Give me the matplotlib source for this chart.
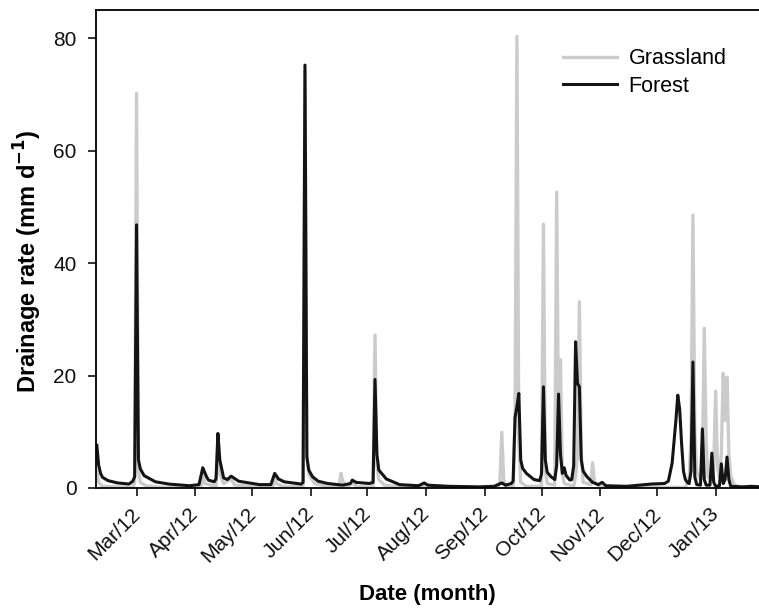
import pandas as pd
import matplotlib
matplotlib.use('Agg')
import matplotlib.pyplot as plt
import matplotlib.dates as mdates
import matplotlib.transforms as mtransforms

plt.rcParams['font.family'] = ['Liberation Sans', 'DejaVu Sans']

# Drenaje diario (mm/d)
forest_dates = [
    "2012-02-09", "2012-02-10", "2012-02-11", "2012-02-12", "2012-02-15", "2012-02-20",
    "2012-02-26", "2012-02-28", "2012-02-29", "2012-03-01", "2012-03-02", "2012-03-03",
    "2012-03-05", "2012-03-11", "2012-03-18", "2012-03-29", "2012-04-03", "2012-04-05",
    "2012-04-07", "2012-04-08", "2012-04-11", "2012-04-12", "2012-04-13", "2012-04-14",
    "2012-04-16", "2012-04-18", "2012-04-20", "2012-04-24", "2012-05-05", "2012-05-11",
    "2012-05-13", "2012-05-15", "2012-05-18", "2012-05-27", "2012-05-28", "2012-05-29",
    "2012-05-30", "2012-05-31", "2012-06-02", "2012-06-05", "2012-06-10", "2012-06-18",
    "2012-06-22", "2012-06-23", "2012-06-25", "2012-07-02", "2012-07-04", "2012-07-05",
    "2012-07-06", "2012-07-07", "2012-07-11", "2012-07-18", "2012-07-28", "2012-07-31",
    "2012-08-02", "2012-08-13", "2012-08-29", "2012-09-06", "2012-09-10", "2012-09-12",
    "2012-09-15", "2012-09-16", "2012-09-17", "2012-09-18", "2012-09-19", "2012-09-20",
    "2012-09-21", "2012-09-23", "2012-09-27", "2012-09-30", "2012-10-01", "2012-10-02",
    "2012-10-03", "2012-10-04", "2012-10-06", "2012-10-08", "2012-10-09", "2012-10-10",
    "2012-10-11", "2012-10-12", "2012-10-13", "2012-10-14", "2012-10-16", "2012-10-17",
    "2012-10-18", "2012-10-19", "2012-10-20", "2012-10-21", "2012-10-22", "2012-10-23",
    "2012-10-25", "2012-10-28", "2012-10-31", "2012-11-02", "2012-11-04", "2012-11-15",
    "2012-11-28", "2012-12-05", "2012-12-07", "2012-12-09", "2012-12-11", "2012-12-12",
    "2012-12-13", "2012-12-14", "2012-12-15", "2012-12-16", "2012-12-17", "2012-12-18",
    "2012-12-19", "2012-12-20", "2012-12-21", "2012-12-22", "2012-12-24", "2012-12-25",
    "2012-12-26", "2012-12-27", "2012-12-29", "2012-12-30", "2012-12-31", "2013-01-01",
    "2013-01-03", "2013-01-04", "2013-01-05", "2013-01-06", "2013-01-07", "2013-01-08",
    "2013-01-09", "2013-01-15", "2013-01-20", "2013-01-25",
]
forest_mm = [
    7.6, 4.0, 2.6, 1.9, 1.3, 0.9,
    0.7, 1.2, 2.0, 46.8, 5.0, 3.4,
    2.2, 1.1, 0.7, 0.4, 0.6, 3.6,
    2.0, 1.4, 1.1, 1.6, 9.7, 5.0,
    1.8, 1.5, 2.1, 1.2, 0.6, 0.6,
    2.6, 1.6, 1.1, 0.7, 1.0, 75.2,
    5.5, 3.2, 2.0, 1.2, 0.8, 0.5,
    0.8, 1.4, 1.0, 0.8, 1.0, 19.3,
    6.0, 3.2, 1.6, 0.6, 0.4, 0.9,
    0.5, 0.3, 0.2, 0.3, 0.9, 0.5,
    0.8, 1.2, 12.5, 14.5, 16.8, 5.0,
    3.5, 2.6, 1.5, 1.3, 2.5, 18.0,
    5.0, 2.8, 2.0, 1.5, 4.0, 16.7,
    6.0, 2.6, 3.6, 2.2, 1.4, 1.5,
    4.0, 26.0, 18.6, 18.0, 5.0, 3.0,
    2.0, 1.0, 0.6, 1.0, 0.4, 0.3,
    0.7, 0.8, 1.2, 4.4, 12.0, 16.5,
    14.0, 8.0, 3.0, 1.5, 1.0, 0.8,
    3.0, 22.4, 2.0, 0.6, 0.5, 10.5,
    1.5, 0.5, 0.5, 6.2, 1.0, 0.3,
    0.4, 4.3, 0.8, 1.5, 5.5, 1.5,
    0.3, 0.2, 0.3, 0.2,
]

grass_dates = [
    "2012-02-09", "2012-02-10", "2012-02-12", "2012-02-28", "2012-02-29", "2012-03-01",
    "2012-03-02", "2012-03-03", "2012-03-06", "2012-03-15", "2012-04-04", "2012-04-05",
    "2012-04-06", "2012-04-12", "2012-04-13", "2012-04-14", "2012-04-16", "2012-04-20",
    "2012-04-22", "2012-05-12", "2012-05-13", "2012-05-14", "2012-05-17", "2012-05-28",
    "2012-05-29", "2012-05-30", "2012-05-31", "2012-06-03", "2012-06-10", "2012-06-16",
    "2012-06-17", "2012-06-18", "2012-06-20", "2012-06-23", "2012-06-26", "2012-07-04",
    "2012-07-05", "2012-07-06", "2012-07-07", "2012-07-10", "2012-07-20", "2012-07-31",
    "2012-08-02", "2012-09-08", "2012-09-09", "2012-09-10", "2012-09-11", "2012-09-12",
    "2012-09-16", "2012-09-17", "2012-09-18", "2012-09-19", "2012-09-20", "2012-09-23",
    "2012-10-01", "2012-10-02", "2012-10-03", "2012-10-04", "2012-10-08", "2012-10-09",
    "2012-10-10", "2012-10-11", "2012-10-12", "2012-10-13", "2012-10-18", "2012-10-19",
    "2012-10-20", "2012-10-21", "2012-10-22", "2012-10-23", "2012-10-27", "2012-10-28",
    "2012-10-29", "2012-11-01", "2012-12-16", "2012-12-18", "2012-12-19", "2012-12-20",
    "2012-12-21", "2012-12-22", "2012-12-24", "2012-12-25", "2012-12-26", "2012-12-27",
    "2012-12-28", "2012-12-30", "2012-12-31", "2013-01-01", "2013-01-02", "2013-01-03",
    "2013-01-04", "2013-01-05", "2013-01-06", "2013-01-07", "2013-01-08", "2013-01-09",
    "2013-01-11", "2013-01-15", "2013-01-25",
]
grass_mm = [
    3.0, 1.0, 0.3, 0.1, 1.0, 70.2,
    3.0, 1.0, 0.4, 0.1, 0.1, 2.8,
    0.8, 0.3, 8.5, 2.5, 0.8, 1.6,
    0.5, 0.1, 2.2, 0.8, 0.3, 0.2,
    74.0, 6.0, 2.5, 0.8, 0.2, 0.2,
    2.6, 1.2, 0.2, 0.8, 0.2, 0.2,
    27.2, 4.0, 1.5, 0.5, 0.1, 0.5,
    0.1, 0.1, 1.0, 9.9, 1.5, 0.3,
    0.3, 12.0, 80.3, 8.0, 1.0, 0.3,
    0.3, 46.9, 3.0, 0.8, 0.5, 52.6,
    8.0, 22.8, 2.5, 0.8, 0.3, 2.0,
    6.0, 33.1, 6.0, 1.0, 0.6, 4.5,
    1.0, 0.2, 0.1, 1.5, 9.0, 48.5,
    10.0, 3.0, 1.5, 4.0, 28.4, 8.0,
    2.0, 1.5, 4.0, 17.2, 3.5, 2.0,
    6.0, 20.4, 12.0, 19.7, 6.0, 2.0,
    0.5, 0.1, 0.1,
]

y_ticks = [0, 20, 40, 60, 80]

fig = plt.figure(figsize=(7.59, 6.09), dpi=100)
ax = fig.add_axes([0.1265, 0.1987, 0.8735, 0.7849])

ax.plot(pd.to_datetime(grass_dates), grass_mm, color='#cbcbcb', lw=2.4, label='Grassland')
ax.plot(pd.to_datetime(forest_dates), forest_mm, color='#141414', lw=2.2, label='Forest')

ax.set_xlim(pd.Timestamp("2012-02-08 14:00"), pd.Timestamp("2013-01-23 22:00"))
ax.set_ylim(0, 85)
ax.set_yticks(y_ticks)

ax.set_xticks(pd.date_range("2012-03-01", "2013-01-01", freq="MS"))
ax.xaxis.set_major_formatter(mdates.DateFormatter('%b/%y'))

ax.tick_params(direction='out', length=6, width=1.2, labelsize=15, colors='#111111')
ax.tick_params(axis='x', pad=5)
ax.tick_params(axis='y', pad=8)

# etiquetas giradas, desplazadas un poco a la izquierda como en el original
shift = mtransforms.ScaledTranslation(-0.06, -0.01, fig.dpi_scale_trans)
for lbl in ax.get_xticklabels():
    lbl.set_rotation(45)
    lbl.set_ha('right')
    lbl.set_rotation_mode('anchor')
    lbl.set_transform(lbl.get_transform() + shift)

for side in ['left', 'bottom', 'top']:
    ax.spines[side].set_linewidth(1.3)
ax.spines['right'].set_visible(False)

ax.set_ylabel('Drainage rate (mm d$^{\\mathbf{-1}}$)', fontsize=17, fontweight='bold')
ax.yaxis.set_label_coords(-0.079, 0.475)
ax.set_xlabel('Date (month)', fontsize=16, fontweight='bold', labelpad=13)

ax.legend(loc='upper left', bbox_to_anchor=(0.704, 0.92), borderaxespad=0, borderpad=0,
          frameon=False, fontsize=15.5, handlelength=2.5, handletextpad=0.55, labelspacing=0.3)

fig.savefig('out.png', dpi=100)
